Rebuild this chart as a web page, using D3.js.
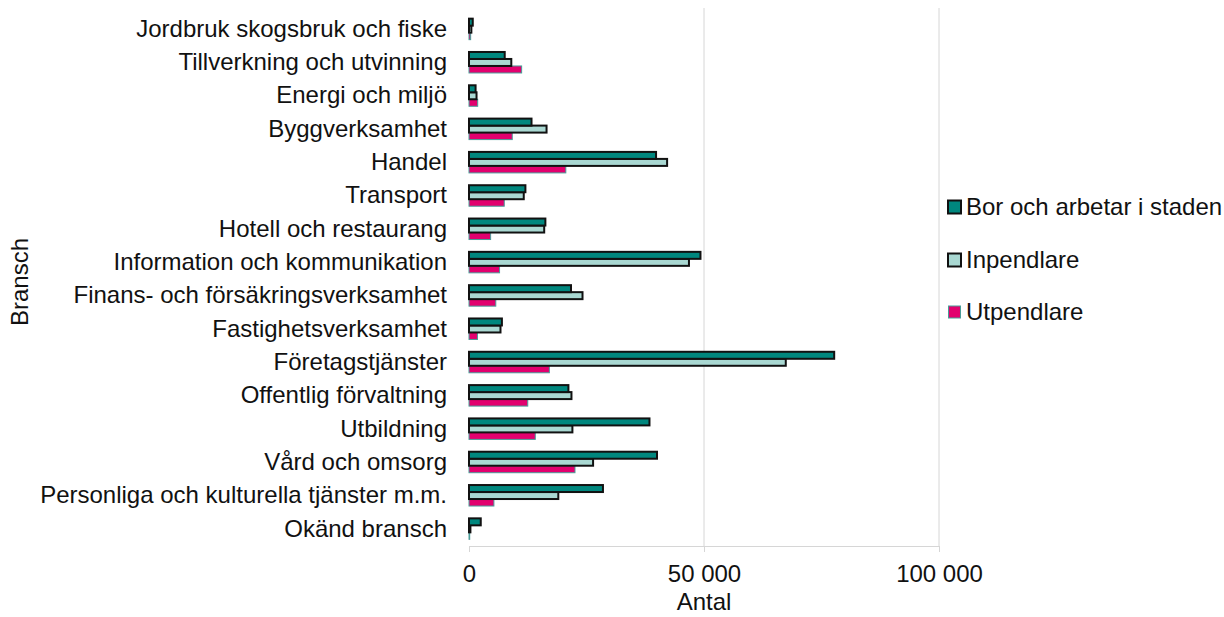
<!DOCTYPE html>
<html>
<head>
<meta charset="utf-8">
<script src="https://cdn.jsdelivr.net/npm/d3@7"></script>
<style>
  html, body { margin: 0; padding: 0; background: #fff; }
  svg { display: block; }
  text { font-family: "Liberation Sans", Arial, sans-serif; fill: #111; }
</style>
</head>
<body>
<svg id="chart" width="1224" height="617"></svg>
<script>
const categories = [
  "Jordbruk skogsbruk och fiske",
  "Tillverkning och utvinning",
  "Energi och miljö",
  "Byggverksamhet",
  "Handel",
  "Transport",
  "Hotell och restaurang",
  "Information och kommunikation",
  "Finans- och försäkringsverksamhet",
  "Fastighetsverksamhet",
  "Företagstjänster",
  "Offentlig förvaltning",
  "Utbildning",
  "Vård och omsorg",
  "Personliga och kulturella tjänster m.m.",
  "Okänd bransch"
];
const seriesNames = ["Bor och arbetar i staden", "Inpendlare", "Utpendlare"];
const borValues  = [800, 7600, 1400, 13300, 39800, 12000, 16250, 49250, 21700, 7000, 77700, 21150, 38400, 40000, 28500, 2500];
const inpValues  = [500, 9000, 1600, 16500, 42150, 11650, 16000, 46800, 24150, 6700, 67400, 21800, 22000, 26400, 19000, 300];
const utpValues  = [350, 11200, 1850, 9200, 20600, 7500, 4600, 6500, 5700, 1800, 17100, 12500, 14100, 22550, 5300, 150];
const xTicks = [0, 50000, 100000];
const xTitle = "Antal";
const yTitle = "Bransch";

const svg = d3.select("#chart");
const FS = 24;
const mLeft = 469, mRight = 939, mTop = 12, mBottom = 546;

const x = d3.scaleLinear().domain([0, 100000]).range([mLeft, mRight]);
const y = d3.scaleBand().domain(categories).range([mTop, mBottom]).paddingInner(0.37).paddingOuter(0.2);
const sub = d3.scaleBand().domain(seriesNames).range([0, y.bandwidth()]);

const fmt = d3.formatLocale({decimal: ",", thousands: " ", grouping: [3], currency: ["", " kr"]}).format(",d");

// gridlines
svg.append("g").selectAll("line").data(xTicks.filter(d => d > 0)).join("line")
  .attr("x1", d => x(d)).attr("x2", d => x(d))
  .attr("y1", 8).attr("y2", mBottom)
  .attr("stroke", "#d6d6d6").attr("stroke-width", 1);

// x axis
const xAxis = svg.append("g").attr("transform", `translate(0,${mBottom})`)
  .call(d3.axisBottom(x).tickValues(xTicks).tickFormat(fmt).tickSize(6).tickPadding(13));
xAxis.select(".domain").attr("stroke", "#d6d6d6");
xAxis.selectAll(".tick line").attr("stroke", "#d6d6d6");
xAxis.selectAll(".tick text").attr("font-size", FS).attr("fill", "#111")
  .attr("font-family", '"Liberation Sans", Arial, sans-serif');

// y axis labels
const yAxis = svg.append("g").attr("transform", `translate(${mLeft},0)`)
  .call(d3.axisLeft(y).tickSize(0).tickPadding(22));
yAxis.select(".domain").remove();
yAxis.selectAll(".tick text").attr("font-size", FS).attr("fill", "#111")
  .attr("font-family", '"Liberation Sans", Arial, sans-serif');

const styles = {
  "Bor och arbetar i staden": {fill: "#00877e", stroke: "#111", sw: 2},
  "Inpendlare": {fill: "#a9d8d2", stroke: "#111", sw: 2},
  "Utpendlare": {fill: "#e2006e", stroke: "#4a9c98", sw: 1}
};
const seriesData = {
  "Bor och arbetar i staden": borValues,
  "Inpendlare": inpValues,
  "Utpendlare": utpValues
};

// draw pink first, then black-bordered bars on top
["Utpendlare", "Inpendlare", "Bor och arbetar i staden"].forEach(name => {
  const st = styles[name];
  svg.append("g").selectAll("rect")
    .data(categories.map((c, i) => ({c, v: seriesData[name][i]})))
    .join("rect")
    .attr("x", x(0))
    .attr("y", d => y(d.c) + sub(name))
    .attr("width", d => x(d.v) - x(0))
    .attr("height", sub.bandwidth())
    .attr("fill", st.fill)
    .attr("stroke", st.stroke)
    .attr("stroke-width", st.sw);
});

// axis titles
svg.append("text").attr("x", (x(0) + x(100000)) / 2).attr("y", 610)
  .attr("text-anchor", "middle").attr("font-size", FS).text(xTitle);
svg.append("text").attr("transform", "translate(28,282) rotate(-90)")
  .attr("text-anchor", "middle").attr("font-size", FS).text(yTitle);

// legend
const legendY = [207, 260, 312];
const lg = svg.append("g");
seriesNames.forEach((name, i) => {
  const st = styles[name];
  const s = name === "Utpendlare" ? 12 : 13;
  lg.append("rect").attr("x", 948 + (13 - s) / 2).attr("y", legendY[i] - s / 2)
    .attr("width", s).attr("height", s)
    .attr("fill", st.fill).attr("stroke", st.stroke).attr("stroke-width", st.sw);
  lg.append("text").attr("x", 966).attr("y", legendY[i]).attr("dy", "0.35em")
    .attr("font-size", FS).text(name);
});
</script>
</body>
</html>
